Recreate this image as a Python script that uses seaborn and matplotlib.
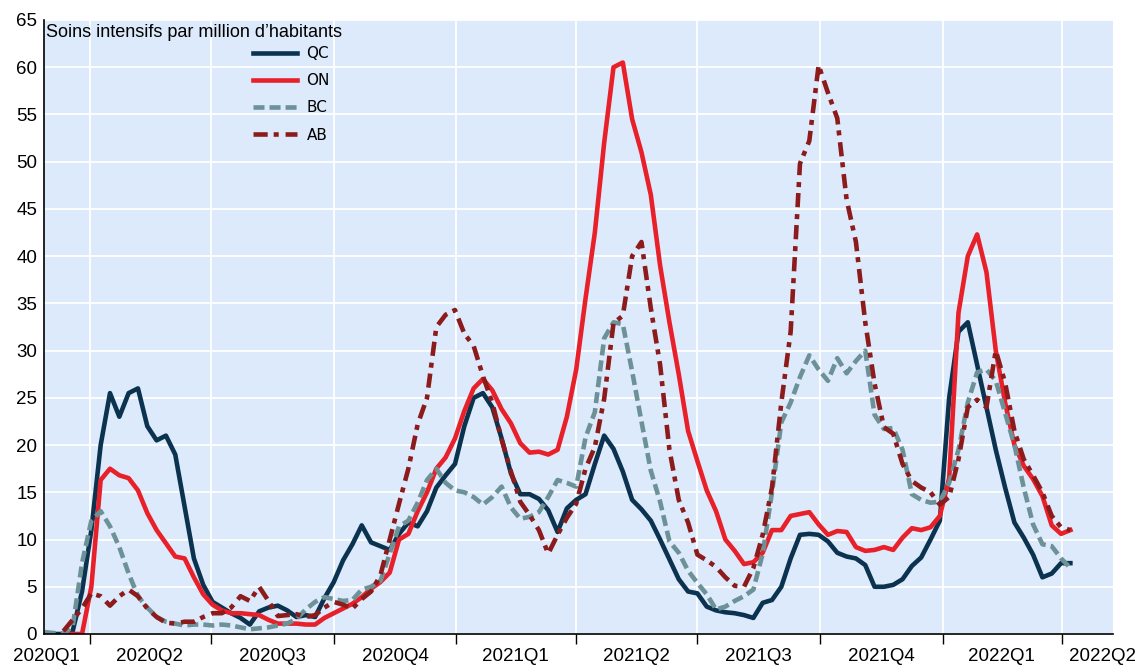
import pandas as pd
import numpy as np
import matplotlib
matplotlib.use("Agg")
import matplotlib.pyplot as plt
import seaborn as sns

nan = np.nan

# weekly sampling
dates = pd.date_range("2020-02-27", periods=111, freq="7D")

qc = [0, 0, 0, 0.3, 4.5, 11, 20, 25.5, 23, 25.5,
      26, 22, 20.5, 21, 19, 13.5, 8, 5.2, 3.4, 2.8,
      2.2, 1.7, 1, 2.4, 2.8, 3, 2.5, 1.8, 2, 1.8,
      3.8, 5.5, 7.8, 9.5, 11.5, 9.7, 9.3, 8.9, 10.6, 11.8,
      11.4, 13, 15.5, 16.8, 18, 22, 25, 25.5, 24, 20.7,
      17, 14.8, 14.8, 14.3, 13.1, 10.8, 13.3, 14.2, 14.8, 18,
      21, 19.6, 17.2, 14.2, 13.2, 12, 10, 7.9, 5.8, 4.5,
      4.3, 2.9, 2.5, 2.3, 2.2, 2, 1.7, 3.3, 3.6, 5,
      8, 10.5, 10.6, 10.5, 9.8, 8.6, 8.2, 8, 7.3, 5,
      5, 5.2, 5.8, 7.2, 8.1, 10, 12, 25, 32, 33,
      28.5, 24, 19.5, 15.5, 11.8, 10.2, 8.4, 6, 6.4, 7.5,
      7.5]

on = [nan, nan, 0, 0, 0, 5, 16.3, 17.5, 16.8, 16.5,
      15.2, 12.8, 11, 9.6, 8.2, 8, 6, 4.2, 3.1, 2.5,
      2.2, 2.2, 2.1, 2, 1.5, 1.1, 1.1, 1.1, 1, 1,
      1.7, 2.2, 2.7, 3.2, 3.9, 4.8, 5.5, 6.5, 10, 10.6,
      13, 15, 17.5, 18.7, 20.7, 23.6, 26, 27, 25.8, 23.8,
      22.3, 20.2, 19.2, 19.3, 19, 19.5, 23, 28, 35.5, 42.5,
      52, 60, 60.5, 54.5, 51, 46.5, 39, 33, 27.5, 21.5,
      18.3, 15.2, 13, 10, 8.8, 7.4, 7.6, 8.6, 11, 11,
      12.5, 12.7, 12.9, 11.6, 10.5, 10.9, 10.8, 9.2, 8.8, 8.9,
      9.2, 8.9, 10.2, 11.2, 11, 11.3, 12.5, 16.5, 34, 40,
      42.3, 38.3, 30, 24.5, 20, 17.8, 16.4, 14.6, 11.5, 10.6,
      11]

bc = [0.2, 0.1, 0, 0.8, 7.5, 12, 13, 11.4, 9.2, 6.4,
      4, 2.8, 1.8, 1.3, 1.1, 0.9, 1, 1, 0.9, 1,
      0.9, 0.7, 0.5, 0.6, 0.7, 0.9, 1.1, 1.6, 2.6, 3.4,
      3.9, 3.7, 3.5, 3.6, 4.7, 5, 5.6, 8.5, 11.4, 12,
      13.9, 16.3, 17.5, 16, 15.2, 15, 14.5, 13.7, 14.5, 15.6,
      13.4, 12.2, 12.4, 12.9, 14.5, 16.3, 16, 15.6, 20.8, 23.5,
      31.3, 33, 32.8, 27.8, 22.5, 17.3, 14, 9.8, 8.6, 6.7,
      5.4, 4.2, 2.6, 2.9, 3.5, 4, 4.7, 8.5, 15, 22.4,
      24.5, 27.2, 29.5, 28, 26.8, 29.2, 27.6, 28.9, 30, 23.2,
      21.7, 21.8, 19.5, 14.8, 14.2, 13.9, 14, 16, 19.5, 24.5,
      27.7, 28, 26.8, 23.4, 20, 15.5, 11.6, 9.5, 9.3, 8,
      7]

ab = [nan, nan, 0.3, 1.5, 2.7, 4.3, 4, 3, 4, 4.7,
      4, 2.7, 1.8, 1.2, 1.1, 1.3, 1.3, 1.8, 2.2, 2.2,
      2.8, 4, 3.5, 5, 3.5, 1.9, 2, 2.1, 1.8, 2,
      2.8, 3.4, 3.1, 2.7, 3.7, 4.5, 6.2, 10, 13.8, 17.5,
      22.2, 25, 32.5, 33.8, 34.3, 31.8, 30.5, 27.3, 24.5, 20.6,
      17.2, 14, 12.6, 11, 8.5, 10.5, 12.3, 13.8, 17.5, 19.8,
      24.9, 32.9, 33.7, 40, 41.5, 34.5, 28.5, 19.5, 14.2, 11.8,
      8.4, 7.8, 7.1, 6, 5.1, 5, 7, 10.5, 15.5, 24.5,
      32, 49.8, 52.2, 60.2, 57.3, 54.6, 46, 41.5, 33, 26.5,
      21.9, 21.2, 18, 16.2, 15.5, 15, 13.7, 14.5, 18.5, 24,
      24.8, 24, 30, 26.6, 21.5, 18.5, 16.8, 15, 12.5, 11.3,
      11]

provinces = ["QC", "ON", "BC", "AB"]
quarter_labels = ["2020Q1", "2020Q2", "2020Q3", "2020Q4", "2021Q1",
                  "2021Q2", "2021Q3", "2021Q4", "2022Q1", "2022Q2"]

df = pd.DataFrame({"date": dates, "QC": qc, "ON": on, "BC": bc, "AB": ab})
long_df = df.melt(id_vars="date", var_name="prov", value_name="val").dropna()

colors = {"QC": "#0b3350", "ON": "#e8202a", "BC": "#6c9298", "AB": "#8c1b1b"}
dash_map = {"QC": "", "ON": "", "BC": (2.4, 1.1), "AB": (3.1, 1.3, 1.1, 1.5)}

fig = plt.figure(figsize=(11.46, 6.69), dpi=100)
ax = fig.add_axes([44 / 1146, 1 - 634 / 669, (1113 - 44) / 1146, (634 - 20) / 669])
ax.set_facecolor("#ddeafb")

sns.lineplot(data=long_df, x="date", y="val", hue="prov", style="prov",
             hue_order=provinces, style_order=provinces,
             palette=colors, dashes=dash_map, linewidth=3.3,
             estimator=None, legend=False, ax=ax)

ax.set_ylim(0, 65)
ax.set_yticks(range(0, 66, 5))
ax.set_xlim(pd.Timestamp("2020-02-26 11:00"), pd.Timestamp("2022-05-09"))

# quarter boundaries get ticks + grid, quarter labels sit between them
q_starts = pd.date_range("2020-04-01", "2022-04-01", freq="QS")
ax.set_xticks(q_starts)
ax.set_xticklabels([""] * len(q_starts))
label_pos = pd.to_datetime(["2020-02-28", "2020-05-16", "2020-08-16", "2020-11-16",
                            "2021-02-14", "2021-05-16", "2021-08-16", "2021-11-16",
                            "2022-02-14", "2022-05-01"])
ax.set_xticks(label_pos, minor=True)
ax.set_xticklabels(quarter_labels, minor=True)

ax.grid(True, which="major", color="white", linewidth=1.3)
ax.set_axisbelow(True)
for s in ["top", "right"]:
    ax.spines[s].set_visible(False)
for s in ["left", "bottom"]:
    ax.spines[s].set_color("black")
    ax.spines[s].set_linewidth(1.2)

ax.tick_params(axis="x", which="major", direction="out", length=7, width=1, color="black")
ax.tick_params(axis="x", which="minor", length=0, pad=10, labelsize=13.5)
ax.tick_params(axis="y", length=0, pad=5, labelsize=13.5)
for lab in ax.get_xticklabels(minor=True) + ax.get_yticklabels():
    lab.set_fontfamily("Liberation Sans")

ax.set_xlabel("")
ax.set_ylabel("")

ax.text(0.002, 0.993, "Soins intensifs par million d\u2019habitants",
        transform=ax.transAxes, ha="left", va="top",
        fontsize=13, family="Liberation Sans")

handles = ax.get_lines()[:4]
ax.legend(handles, provinces, loc="upper left",
          bbox_to_anchor=(253 / 1146, 1 - 46 / 669), bbox_transform=fig.transFigure,
          frameon=False, handlelength=2.9, handletextpad=0.6, labelspacing=0.8,
          borderpad=0, borderaxespad=0, prop={"family": "DejaVu Sans", "size": 11})

fig.savefig("out.png", dpi=100)
